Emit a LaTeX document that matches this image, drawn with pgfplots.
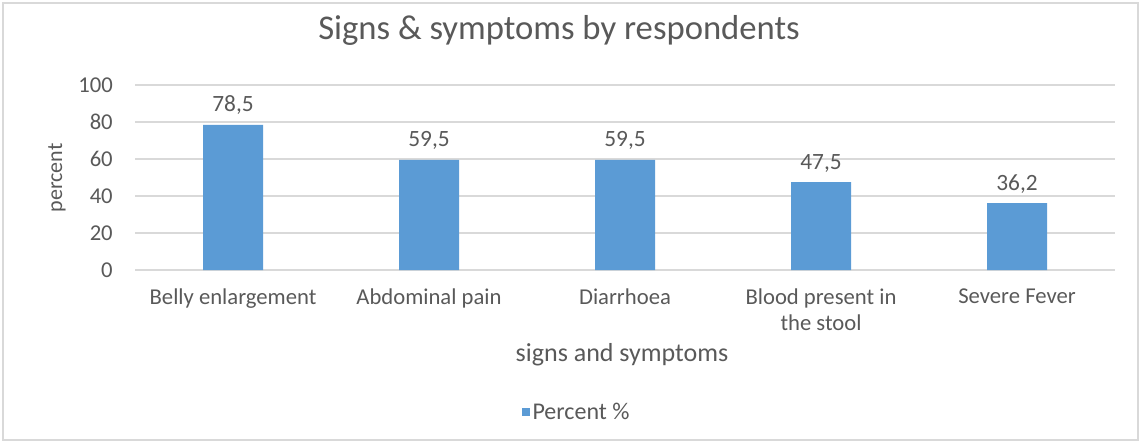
\documentclass[border=0pt]{standalone}
\usepackage{pgfplots}
\pgfplotsset{compat=1.18}
\usepackage{fontspec}
\setmainfont{Carlito}
\definecolor{barblue}{HTML}{5B9BD5}
\definecolor{txtgray}{HTML}{595959}
\definecolor{gridgray}{HTML}{D9D9D9}
\begin{document}
\begin{tikzpicture}
\useasboundingbox (0,0) rectangle (855.75pt,332.25pt);
\draw[gridgray, line width=0.8pt] (2.25pt,2.25pt) rectangle (853.5pt,330pt);
\begin{axis}[
  at={(101.25pt,129.75pt)}, anchor=south west,
  scale only axis, width=735pt, height=138.75pt,
  ybar, bar width=45pt,
  xmin=-0.5, xmax=4.5, ymin=0, ymax=100,
  xtick=data,
  xticklabels={Belly enlargement, Abdominal pain, Diarrhoea, {Blood present in\\the stool}, Severe Fever},
  ytick={0,20,...,100},
  ymajorgrids, grid style={gridgray, line width=0.8pt},
  axis line style={draw=none},
  major tick length=0pt,
  /pgf/number format/assume math mode=true,
  tick label style={font=\fontsize{17}{19}\selectfont, text=txtgray},
  yticklabel style={anchor=east, inner sep=0pt, xshift=-16.5pt},
  xticklabel style={anchor=north, inner sep=0pt, yshift=-14pt, align=center},
  nodes near coords,
  nodes near coords style={anchor=base, inner sep=0pt, yshift=9.75pt, font=\fontsize{17.5}{19}\selectfont, text=txtgray,
    /pgf/number format/.cd, use comma, fixed, fixed zerofill, precision=1, assume math mode=true},
  title={Signs \& symptoms by respondents},
  title style={at={(axis description cs:0.4327,1.2)}, anchor=base, font=\fontsize{26}{30}\selectfont, text=txtgray},
  xlabel={signs and symptoms},
  xlabel style={at={(axis description cs:0.497,-0.497)}, anchor=base, font=\fontsize{19.5}{22}\selectfont, text=txtgray},
  ylabel={percent},
  ylabel style={at={(axis description cs:-0.0796,0.497)}, anchor=center, font=\fontsize{16.5}{19}\selectfont, text=txtgray},
  legend style={at={(axis description cs:0.451,-0.768)}, anchor=center, draw=none, fill=none, font=\fontsize{18}{20}\selectfont, text=txtgray},
  legend image code/.code={\fill[barblue] (0pt,-3pt) rectangle (6pt,3pt);},
]
\addplot[fill=barblue, draw=none] coordinates {(0,78.5) (1,59.5) (2,59.5) (3,47.5) (4,36.2)};
\addlegendentry{Percent \%}
\end{axis}
\end{tikzpicture}
\end{document}
